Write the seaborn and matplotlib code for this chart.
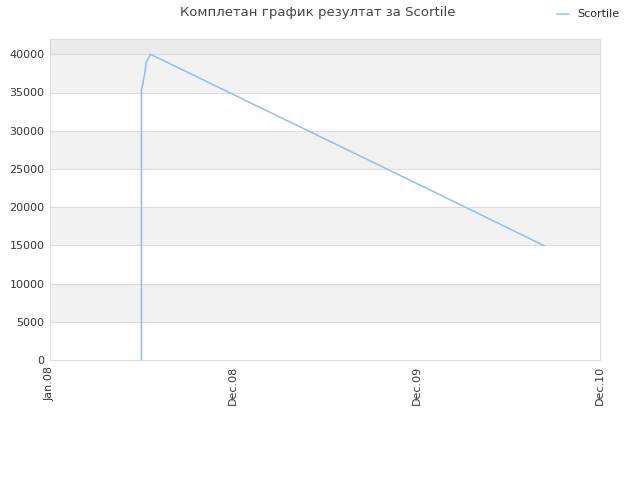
import pandas as pd
import matplotlib
matplotlib.use("Agg")
import matplotlib.pyplot as plt
import seaborn as sns

# values
dates = ["2008-07-01", "2008-07-01", "2008-07-04", "2008-07-08",
         "2008-07-11", "2008-07-19", "2009-12-31", "2010-09-11"]
scores = [0, 35300, 36200, 37700, 39000, 40000, 23100, 14950]
tick_dates = ["2008-01-01", "2008-12-31", "2009-12-31", "2010-12-31"]
tick_labels = ["Jan.08", "Dec.08", "Dec.09", "Dec.10"]
yticks = [0, 5000, 10000, 15000, 20000, 25000, 30000, 35000, 40000]

df = pd.DataFrame({"date": pd.to_datetime(dates), "score": scores, "player": "Scortile"})

sns.set_style("white")
plt.rcParams["font.family"] = ["DejaVu Sans"]

fig = plt.figure(figsize=(6.4, 4.8), dpi=100)
ax = fig.add_axes([50/640, 120/480, 550/640, 321/480])

# alternating horizontal bands
for lo in range(5000, 40000, 10000):
    ax.axhspan(lo, lo + 5000, color="#f2f2f2", zorder=0, lw=0)
ax.axhspan(40000, 42000, color="#ebebeb", zorder=0, lw=0)
for y in yticks[1:]:
    ax.axhline(y, color="#dddddd", lw=0.8, zorder=1)

sns.lineplot(data=df, x="date", y="score", hue="player", palette=["#8cc0f4"],
             estimator=None, sort=False, lw=1.1, ax=ax, zorder=3)

ax.set_xlim(pd.Timestamp("2008-01-01"), pd.Timestamp("2010-12-31"))
ax.set_ylim(0, 42000)
ax.set_yticks(yticks)
ax.set_yticklabels([str(v) for v in yticks], fontsize=8, color="#333333")
ax.set_xticks(pd.to_datetime(tick_dates))
ax.set_xticklabels(tick_labels, rotation=90, fontsize=8, color="#333333")
ax.tick_params(length=0, pad=4)
ax.set_xlabel("")
ax.set_ylabel("")
for s in ax.spines.values():
    s.set_color("#dddddd")
    s.set_linewidth(0.8)

fig.text(0.497, 0.988, "Комплетан график резултат за Scortile", ha="center", va="top",
         fontsize=9.5, color="#444444")
ax.legend(loc="upper right", bbox_to_anchor=(1.0 + 24/550, 1.0 + 34/321), frameon=False,
          fontsize=8, handlelength=1.0, borderaxespad=0)

fig.savefig("out.png", dpi=100)
